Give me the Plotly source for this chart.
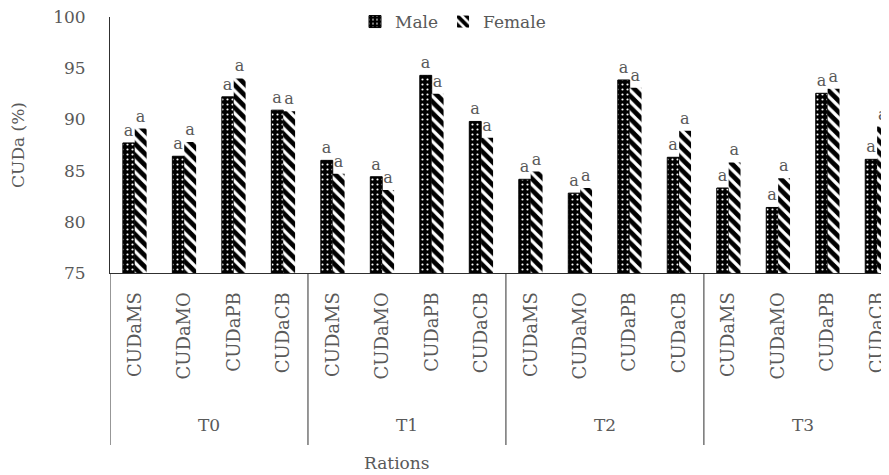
import plotly.graph_objects as go

groups = ["T0", "T1", "T2", "T3"]
rations = ["CUDaMS", "CUDaMO", "CUDaPB", "CUDaCB"]
male = [87.7, 86.4, 92.2, 90.9, 86.0, 84.4, 94.3, 89.8, 84.15, 82.8, 93.85, 86.3, 83.3, 81.4, 92.55, 86.1]
female = [89.1, 87.8, 94.0, 90.8, 84.7, 83.1, 92.5, 88.2, 84.9, 83.3, 93.1, 88.9, 85.8, 84.25, 93.0, 89.3]
letters_male = ["a"] * 16
letters_female = ["a"] * 16

n_per = len(rations)
xpos = list(range(len(groups) * n_per))
ticktext = [r for _ in groups for r in rations]

FONT = "DejaVu Serif"
GREY = "#595959"
LINE = "#303030"

# page has an 8px body margin; figure coordinates are page - 8
OFF = 8
W, H = 889 - OFF, 475 - OFF
PLOT_LEFT = 110 - OFF
PLOT_TOP, PLOT_BOT = 17 - OFF, 273 - OFF
PH = PLOT_BOT - PLOT_TOP
PW = W - PLOT_LEFT

fig = go.Figure()
fig.add_trace(go.Bar(
    name="Male", x=xpos, y=male,
    text=letters_male, textposition="outside", cliponaxis=False,
    textfont=dict(family=FONT, size=16, color=GREY),
    marker=dict(color="black", line=dict(color="black", width=1),
                pattern=dict(shape=".", bgcolor="black", fgcolor="white", fgopacity=1,
                             size=5, solidity=0.15)),
))
fig.add_trace(go.Bar(
    name="Female", x=xpos, y=female,
    text=letters_female, textposition="outside", cliponaxis=False,
    textfont=dict(family=FONT, size=16, color=GREY),
    marker=dict(color="black", line=dict(color="white", width=0),
                pattern=dict(shape="\\", bgcolor="white", fgcolor="black", fgopacity=1,
                             size=8, solidity=0.6)),
))

# group dividers and group labels
for gi, g in enumerate(groups):
    fig.add_shape(type="line", xref="x", yref="paper",
                  x0=gi * n_per - 0.5, x1=gi * n_per - 0.5,
                  y0=0, y1=-(445 - 273) / PH,
                  line=dict(color=LINE, width=1))
    fig.add_annotation(xref="x", yref="paper", x=gi * n_per + (n_per - 1) / 2,
                       y=-(425 - 273) / PH, yanchor="middle", showarrow=False,
                       text=g, font=dict(family=FONT, size=17, color=GREY))

fig.add_annotation(xref="paper", yref="paper", x=(397 - 110) / PW,
                   y=-(463 - 273) / PH, yanchor="middle", showarrow=False,
                   text="Rations", font=dict(family=FONT, size=17, color=GREY))

fig.update_layout(
    width=W, height=H,
    margin=dict(l=PLOT_LEFT, r=0, t=PLOT_TOP, b=H - PLOT_BOT, autoexpand=False),
    paper_bgcolor="white", plot_bgcolor="white",
    barmode="group", bargap=0.52, bargroupgap=0,
    font=dict(family=FONT, size=17, color=GREY),
    showlegend=True,
    legend=dict(orientation="h", x=(453 - 110) / PW, xanchor="center",
                y=1 - (22 - 17) / PH, yanchor="middle",
                font=dict(family=FONT, size=17, color=GREY), bgcolor="rgba(0,0,0,0)",
                itemwidth=30, tracegroupgap=0),
)
fig.update_yaxes(
    range=[75, 100], dtick=5, showgrid=False, zeroline=False, automargin=False,
    showline=True, linecolor=LINE, linewidth=1, ticks="",
    ticklabelstandoff=20, ticklabeloverflow="allow",
    tickfont=dict(family=FONT, size=17, color=GREY),
    title=dict(text="CUDa (%)", font=dict(family=FONT, size=17, color=GREY), standoff=27),
)
fig.update_xaxes(
    range=[-0.5, 15.24], tickmode="array", tickvals=xpos, ticktext=ticktext,
    showgrid=False, zeroline=False, automargin=False,
    showline=True, linecolor=LINE, linewidth=1, ticks="",
    tickangle=-90, ticklabelstandoff=11,
    tickfont=dict(family=FONT, size=18, color=GREY),
)

fig.write_html("out.html")
